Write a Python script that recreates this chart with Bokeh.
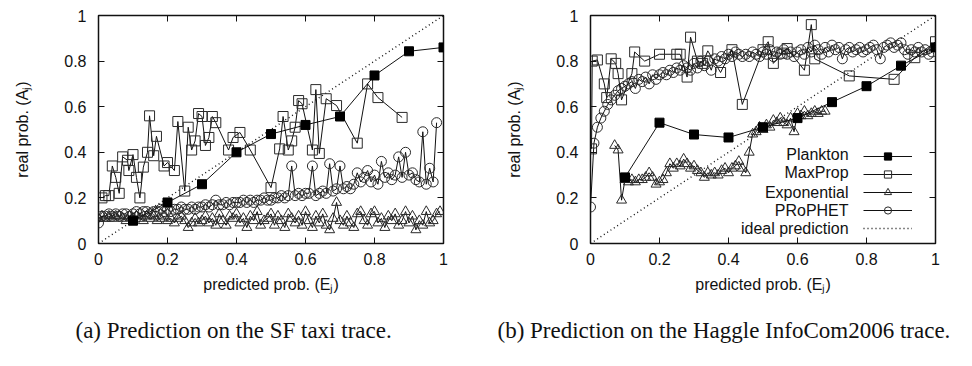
from bokeh.plotting import figure
from bokeh.layouts import row
from bokeh.models import (LinearAxis, FixedTicker, Legend, LegendItem, Label, Range1d,
                          Title, CustomLabelingPolicy)
from bokeh.embed import file_html
from bokeh.resources import INLINE

# ---------------------------------------------------------------- data
tick_vals = [0, 0.2, 0.4, 0.6, 0.8, 1]
tick_labels = ["0", "0.2", "0.4", "0.6", "0.8", "1"]
ideal_x = [0, 1]
ideal_y = [0, 1]

series_names = ["Plankton", "MaxProp", "Exponential", "PRoPHET", "ideal prediction"]

# (a) SF taxi trace
taxi_plankton_x = [0.1, 0.2, 0.3, 0.4, 0.5, 0.6, 0.7, 0.8, 0.9, 1.0]
taxi_plankton_y = [0.10, 0.18, 0.26, 0.40, 0.48, 0.52, 0.557, 0.737, 0.843, 0.86]

taxi_maxprop_x = [0.01, 0.02, 0.03, 0.04, 0.05, 0.06, 0.07, 0.084, 0.088, 0.10,
                  0.11, 0.12, 0.13, 0.142, 0.148, 0.16, 0.168, 0.19, 0.20, 0.22,
                  0.23, 0.25, 0.26, 0.27, 0.28, 0.29, 0.30, 0.31, 0.32, 0.33,
                  0.34, 0.377, 0.39, 0.41, 0.44, 0.50, 0.525, 0.535, 0.55, 0.56,
                  0.57, 0.58, 0.59, 0.62, 0.63, 0.64, 0.66, 0.69, 0.75, 0.78,
                  0.81, 0.88]
taxi_maxprop_y = [0.20, 0.21, 0.21, 0.34, 0.29, 0.22, 0.38, 0.365, 0.32, 0.39,
                  0.29, 0.20, 0.335, 0.40, 0.56, 0.385, 0.47, 0.34, 0.355, 0.32,
                  0.535, 0.23, 0.51, 0.41, 0.45, 0.57, 0.557, 0.43, 0.465, 0.557,
                  0.53, 0.41, 0.465, 0.487, 0.41, 0.245, 0.415, 0.557, 0.41, 0.45,
                  0.51, 0.627, 0.613, 0.41, 0.675, 0.395, 0.635, 0.605, 0.44, 0.70,
                  0.64, 0.553]

taxi_grid_x = [0.00, 0.01, 0.02, 0.03, 0.04, 0.05, 0.06, 0.07, 0.08, 0.09,
               0.10, 0.11, 0.12, 0.13, 0.14, 0.15, 0.16, 0.17, 0.18, 0.19,
               0.20, 0.21, 0.22, 0.23, 0.24, 0.25, 0.26, 0.27, 0.28, 0.29,
               0.30, 0.31, 0.32, 0.33, 0.34, 0.35, 0.36, 0.37, 0.38, 0.39,
               0.40, 0.41, 0.42, 0.43, 0.44, 0.45, 0.46, 0.47, 0.48, 0.49,
               0.50, 0.51, 0.52, 0.53, 0.54, 0.55, 0.56, 0.57, 0.58, 0.59,
               0.60, 0.61, 0.62, 0.63, 0.64, 0.65, 0.66, 0.67, 0.68, 0.69,
               0.70, 0.71, 0.72, 0.73, 0.74, 0.75, 0.76, 0.77, 0.78, 0.79,
               0.80, 0.81, 0.82, 0.83, 0.84, 0.85, 0.86, 0.87, 0.88, 0.89,
               0.90, 0.91, 0.92, 0.93, 0.94, 0.95, 0.96, 0.97, 0.98, 0.99]

taxi_exponential_y = [0.11, 0.12, 0.11, 0.12, 0.11, 0.12, 0.12, 0.11, 0.10, 0.12,
                      0.11, 0.12, 0.11, 0.10, 0.12, 0.11, 0.12, 0.10, 0.11, 0.12,
                      0.10, 0.11, 0.09, 0.11, 0.12, 0.10, 0.07, 0.09, 0.11, 0.09,
                      0.10, 0.12, 0.09, 0.11, 0.08, 0.13, 0.10, 0.08, 0.12, 0.11,
                      0.13, 0.09, 0.11, 0.07, 0.12, 0.10, 0.14, 0.08, 0.10, 0.11,
                      0.13, 0.08, 0.12, 0.10, 0.07, 0.13, 0.11, 0.09, 0.12, 0.08,
                      0.14, 0.10, 0.07, 0.12, 0.09, 0.13, 0.08, 0.06, 0.11, 0.18,
                      0.10, 0.08, 0.12, 0.09, 0.07, 0.13, 0.14, 0.10, 0.08, 0.13,
                      0.14, 0.09, 0.11, 0.07, 0.12, 0.10, 0.13, 0.08, 0.10, 0.14,
                      0.09, 0.12, 0.06, 0.10, 0.08, 0.14, 0.09, 0.10, 0.13, 0.14]

taxi_prophet_x = taxi_grid_x[:99]
taxi_prophet_y = [0.09, 0.12, 0.12, 0.13, 0.12, 0.13, 0.12, 0.13, 0.13, 0.12,
                  0.13, 0.14, 0.13, 0.14, 0.14, 0.13, 0.14, 0.14, 0.15, 0.14,
                  0.15, 0.14, 0.15, 0.15, 0.16, 0.15, 0.15, 0.16, 0.15, 0.16,
                  0.16, 0.17, 0.16, 0.17, 0.19, 0.17, 0.17, 0.18, 0.17, 0.18,
                  0.18, 0.18, 0.19, 0.18, 0.19, 0.18, 0.19, 0.19, 0.20, 0.19,
                  0.19, 0.20, 0.20, 0.21, 0.20, 0.21, 0.34, 0.21, 0.22, 0.21,
                  0.22, 0.22, 0.34, 0.21, 0.22, 0.23, 0.22, 0.35, 0.23, 0.24,
                  0.34, 0.24, 0.25, 0.24, 0.26, 0.31, 0.27, 0.29, 0.32, 0.27,
                  0.30, 0.26, 0.36, 0.29, 0.31, 0.28, 0.30, 0.38, 0.29, 0.40,
                  0.30, 0.31, 0.28, 0.27, 0.49, 0.26, 0.33, 0.27, 0.53]

# (b) Haggle InfoCom2006 trace
haggle_plankton_x = [0.1, 0.2, 0.3, 0.4, 0.5, 0.6, 0.7, 0.8, 0.9, 1.0]
haggle_plankton_y = [0.29, 0.53, 0.478, 0.465, 0.51, 0.55, 0.62, 0.69, 0.78, 0.86]

haggle_maxprop_x = [0.003, 0.005, 0.02, 0.04, 0.047, 0.06, 0.073, 0.08, 0.09, 0.12,
                    0.128, 0.157, 0.20, 0.25, 0.26, 0.28, 0.29, 0.31, 0.325, 0.34,
                    0.377, 0.41, 0.44, 0.50, 0.515, 0.53, 0.555, 0.57, 0.62, 0.64,
                    0.65, 0.75, 0.88, 0.94, 1.0]
haggle_maxprop_y = [0.415, 0.80, 0.805, 0.70, 0.64, 0.81, 0.79, 0.745, 0.63, 0.745,
                    0.84, 0.80, 0.83, 0.83, 0.83, 0.73, 0.905, 0.80, 0.79, 0.845,
                    0.75, 0.85, 0.61, 0.85, 0.885, 0.79, 0.835, 0.855, 0.76, 0.96,
                    0.81, 0.735, 0.72, 0.815, 0.885]

haggle_exponential_x = [0.07, 0.08, 0.09, 0.10, 0.11, 0.12, 0.13, 0.14, 0.15, 0.16,
                        0.17, 0.18, 0.19, 0.20, 0.21, 0.22, 0.23, 0.24, 0.25, 0.26,
                        0.27, 0.28, 0.29, 0.30, 0.31, 0.32, 0.33, 0.34, 0.35, 0.36,
                        0.37, 0.38, 0.39, 0.40, 0.41, 0.42, 0.43, 0.44, 0.45, 0.46,
                        0.47, 0.48, 0.49, 0.50, 0.51, 0.52, 0.53, 0.54, 0.55, 0.56,
                        0.57, 0.58, 0.59, 0.60, 0.61, 0.62, 0.63, 0.64, 0.65, 0.66,
                        0.67, 0.68]
haggle_exponential_y = [0.43, 0.41, 0.19, 0.28, 0.27, 0.28, 0.27, 0.28, 0.28, 0.29,
                        0.31, 0.29, 0.26, 0.27, 0.28, 0.31, 0.35, 0.33, 0.35, 0.34,
                        0.37, 0.35, 0.33, 0.34, 0.32, 0.31, 0.29, 0.31, 0.30, 0.31,
                        0.30, 0.32, 0.33, 0.31, 0.33, 0.34, 0.36, 0.33, 0.31, 0.40,
                        0.48, 0.49, 0.51, 0.50, 0.52, 0.51, 0.54, 0.53, 0.55, 0.53,
                        0.52, 0.55, 0.49, 0.57, 0.56, 0.58, 0.56, 0.57, 0.58, 0.57,
                        0.58, 0.58]

haggle_prophet_x = taxi_grid_x
haggle_prophet_y = [0.16, 0.44, 0.51, 0.55, 0.58, 0.61, 0.63, 0.65, 0.67, 0.68,
                    0.69, 0.70, 0.71, 0.68, 0.72, 0.71, 0.73, 0.70, 0.74, 0.72,
                    0.74, 0.75, 0.74, 0.76, 0.75, 0.77, 0.76, 0.78, 0.77, 0.76,
                    0.79, 0.77, 0.80, 0.78, 0.80, 0.76, 0.81, 0.80, 0.82, 0.81,
                    0.83, 0.82, 0.84, 0.83, 0.82, 0.83, 0.82, 0.84, 0.83, 0.82,
                    0.84, 0.83, 0.85, 0.82, 0.84, 0.83, 0.85, 0.83, 0.84, 0.82,
                    0.84, 0.85, 0.83, 0.86, 0.84, 0.87, 0.85, 0.83, 0.86, 0.84,
                    0.87, 0.85, 0.86, 0.81, 0.85, 0.86, 0.84, 0.85, 0.86, 0.84,
                    0.85, 0.86, 0.87, 0.85, 0.81, 0.86, 0.87, 0.88, 0.86, 0.87,
                    0.88, 0.85, 0.83, 0.85, 0.84, 0.86, 0.84, 0.85, 0.83, 0.84]

captions = ["(a)  Prediction on the SF taxi trace.",
            "(b)  Prediction on the Haggle InfoCom2006 trace."]

# ---------------------------------------------------------------- styling
SANS = "Liberation Sans"
SERIF = "Liberation Serif"
INK = "#111111"
MARK = "#2a2a2a"


def style_axis(ax, show_labels=True):
    ax.ticker = FixedTicker(ticks=tick_vals)
    ax.major_tick_in = 6
    ax.major_tick_out = 0
    ax.minor_tick_in = 0
    ax.minor_tick_out = 0
    ax.axis_line_color = None
    ax.major_tick_line_color = INK
    ax.major_tick_line_width = 1
    ax.major_label_text_font = SANS
    ax.major_label_text_color = INK
    ax.major_label_text_font_size = "16px"
    ax.axis_label_text_font = SANS
    ax.axis_label_text_font_size = "16px"
    ax.axis_label_text_font_style = "normal"
    ax.axis_label_text_color = INK
    if show_labels:
        ax.major_label_overrides = dict(zip(tick_vals, tick_labels))
    else:
        # mirrored tick marks only: no label is kept
        ax.major_label_policy = CustomLabelingPolicy(code="return new Set()")
        ax.major_label_standoff = 0


def make_panel(left_border, right_border, data, caption, caption_offset, with_legend):
    p = figure(frame_width=345, frame_height=228,
               min_border_left=left_border, min_border_right=right_border,
               min_border_top=15, min_border_bottom=123,
               x_range=Range1d(0, 1), y_range=Range1d(0, 1),
               output_backend="svg", toolbar_location=None,
               background_fill_color="white", border_fill_color="white")
    p.xgrid.visible = False
    p.ygrid.visible = False
    p.outline_line_color = INK
    p.outline_line_width = 1.5

    style_axis(p.xaxis[0])
    style_axis(p.yaxis[0])
    p.xaxis[0].axis_label = "predicted prob. (Eⱼ)"
    p.yaxis[0].axis_label = "real prob. (Aⱼ)"
    p.xaxis[0].major_label_standoff = 9
    p.yaxis[0].major_label_standoff = 12
    p.xaxis[0].axis_label_standoff = 8
    p.yaxis[0].axis_label_standoff = 30

    for loc in ("above", "right"):
        ax = LinearAxis()
        style_axis(ax, show_labels=False)
        p.add_layout(ax, loc)

    (pl_x, pl_y), (mp_x, mp_y), (ex_x, ex_y), (pr_x, pr_y) = data

    # ideal prediction diagonal
    ideal = p.line(ideal_x, ideal_y, line_color=INK, line_width=1.4, line_dash="1 3")

    ex_l = p.line(ex_x, ex_y, line_color=INK, line_width=1)
    ex_m = p.scatter(ex_x, ex_y, marker="triangle", size=10, fill_color=None,
                     line_color=MARK, line_width=1)
    pr_l = p.line(pr_x, pr_y, line_color=INK, line_width=1)
    pr_m = p.scatter(pr_x, pr_y, marker="circle", size=10, fill_color=None,
                     line_color=MARK, line_width=1)
    mp_l = p.line(mp_x, mp_y, line_color=INK, line_width=1)
    mp_m = p.scatter(mp_x, mp_y, marker="square", size=10, fill_color=None,
                     line_color=MARK, line_width=1)
    pl_l = p.line(pl_x, pl_y, line_color=INK, line_width=1)
    pl_m = p.scatter(pl_x, pl_y, marker="square", size=9, fill_color="black",
                     line_color="black", line_width=1)

    if with_legend:
        groups = [[pl_l, pl_m], [mp_l, mp_m], [ex_l, ex_m], [pr_l, pr_m], [ideal]]
        items = [LegendItem(label=" ", renderers=g) for g in groups]
        legend = Legend(items=items, location=(273, 6), padding=0, margin=0,
                        spacing=0, glyph_width=49, glyph_height=18,
                        label_height=18, label_width=0, label_standoff=0,
                        label_text_font_size="10px",
                        background_fill_alpha=0, border_line_alpha=0)
        p.add_layout(legend, "center")
        row_y = [0.39, 0.311, 0.224, 0.145, 0.066]
        for name, yy in zip(series_names, row_y):
            p.add_layout(Label(x=0.748, y=yy, text=name, text_align="right",
                               text_baseline="middle", text_font=SANS,
                               text_font_size="16px", text_color=INK))

    p.add_layout(Title(text=caption, align="left", offset=caption_offset,
                       standoff=40, text_font=SERIF, text_font_size="23px",
                       text_font_style="normal", text_color=INK), "below")
    return p


left = make_panel(98, 43,
                  [(taxi_plankton_x, taxi_plankton_y),
                   (taxi_maxprop_x, taxi_maxprop_y),
                   (taxi_grid_x, taxi_exponential_y),
                   (taxi_prophet_x, taxi_prophet_y)],
                  captions[0], -23, False)
right = make_panel(104, 37,
                   [(haggle_plankton_x, haggle_plankton_y),
                    (haggle_maxprop_x, haggle_maxprop_y),
                    (haggle_exponential_x, haggle_exponential_y),
                    (haggle_prophet_x, haggle_prophet_y)],
                   captions[1], -93, True)

layout = row(left, right, spacing=0)
open("out.html", "w").write(file_html(layout, INLINE))
